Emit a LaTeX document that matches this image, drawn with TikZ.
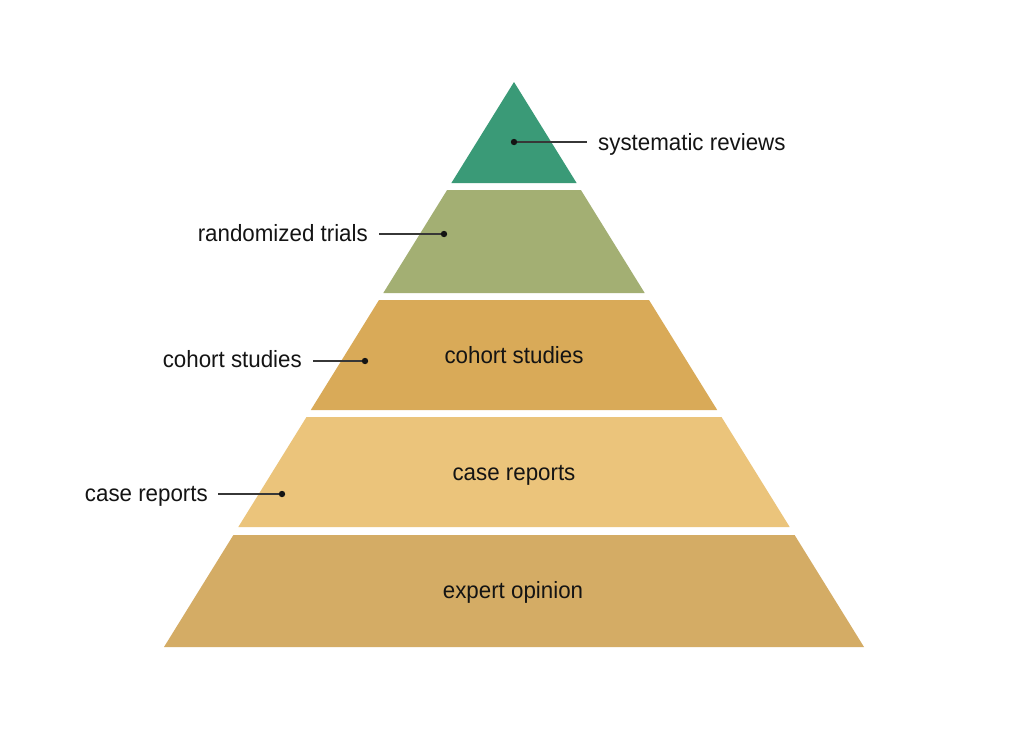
\documentclass[tikz,border=0pt]{standalone}
\usepackage{fontspec}
\setmainfont{Liberation Sans}
\newfontfamily\lblfont{Liberation Sans}[FakeStretch=0.95]
\definecolor{lvA}{HTML}{3A9A77}
\definecolor{lvB}{HTML}{A3AF73}
\definecolor{lvC}{HTML}{D9AA58}
\definecolor{lvD}{HTML}{EBC47B}
\definecolor{lvE}{HTML}{D4AC65}
\definecolor{ink}{HTML}{141414}
\begin{document}
\begin{tikzpicture}[x=1pt,y=-1pt,
  lbl/.style={font=\lblfont\fontsize{23.5}{28}\selectfont, text=ink, inner ysep=0pt, text height=17.8pt, text depth=4.4pt},
  lline/.style={draw=ink!85, line width=1.2pt},
  ldot/.style={fill=ink, draw=none}]
\useasboundingbox[fill=white] (0,0) rectangle (1024,747);
% layers
\fill[lvA] (514,82) -- (576.6,183) -- (451.4,183) -- cycle;
\fill[lvB] (447.1,190) -- (580.9,190) -- (644.7,293) -- (383.3,293) -- cycle;
\fill[lvC] (379,300) -- (649,300) -- (717.2,410) -- (310.8,410) -- cycle;
\fill[lvD] (306.5,417) -- (721.5,417) -- (789.7,527) -- (238.3,527) -- cycle;
\fill[lvE] (233.4,535) -- (794.6,535) -- (864,647) -- (164,647) -- cycle;
% center labels
\node[lbl] (c3) at (514,356.5) {cohort studies};
\node[lbl] (c4) at (514,473.5) {case reports};
\node[lbl] (c5) at (513,591.5) {expert opinion};
% dots
\coordinate (d1) at (514,142);
\coordinate (d2) at (444,234);
\coordinate (d3) at (365,361);
\coordinate (d4) at (282,494);
% side labels
\node[lbl, anchor=west, inner xsep=11pt] (s1) at (587,144) {systematic reviews};
\node[lbl, anchor=east, inner xsep=11pt] (s2) at (379,234.5) {randomized trials};
\node[lbl, anchor=east, inner xsep=11pt] (s3) at (313,361) {cohort studies};
\node[lbl, anchor=east, inner xsep=10pt] (s4) at (218,494.5) {case reports};
% connectors
\draw[lline] (d1) -- (d1 -| s1.west);
\draw[lline] (d2 -| s2.east) -- (d2);
\draw[lline] (d3 -| s3.east) -- (d3);
\draw[lline] (d4 -| s4.east) -- (d4);
\foreach \d in {d1,d2,d3,d4} \fill[ldot] (\d) circle (3.2pt);
\end{tikzpicture}
\end{document}
